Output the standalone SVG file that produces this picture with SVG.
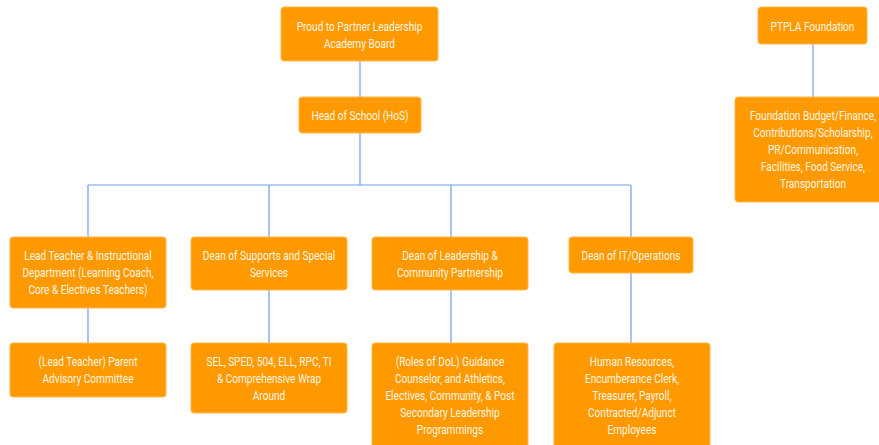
<svg xmlns="http://www.w3.org/2000/svg" width="879" height="445" viewBox="0 0 879 445">
<style>
.box{fill:#FF9900;stroke:#FFB84D;stroke-width:1}
.t{font-family:Roboto,"Liberation Sans",sans-serif;font-size:12.3px;fill:#FFF6E6;text-anchor:middle}
.c{stroke:#6D9EEB;stroke-width:1.2;fill:none}
</style>
<rect width="879" height="445" fill="#FFFFFF"/>
<g id="connectors">
<path class="c" d="M360 61V97"/>
<path class="c" d="M360 133V185M88 185H631M88 185V237M269 185V237M451 185V237M631 185V237"/>
<path class="c" d="M88 308V343M269 290V343M451 290V343M631 273V343"/>
<path class="c" d="M813 44V97"/>
</g>
<g id="board"><rect class="box" x="281" y="7" width="157" height="54" rx="3"/>
<g transform="translate(359.5 0) scale(0.82 1)"><text class="t" x="0" y="31">Proud to Partner Leadership</text><text class="t" x="0" y="48">Academy Board</text></g></g>
<g id="hos"><rect class="box" x="299" y="97" width="122" height="36" rx="3"/>
<g transform="translate(360 0) scale(0.82 1)"><text class="t" x="0" y="120">Head of School (HoS)</text></g></g>
<g id="ptpla"><rect class="box" x="758" y="7" width="109" height="37" rx="3"/>
<g transform="translate(812.5 0) scale(0.82 1)"><text class="t" x="0" y="31">PTPLA Foundation</text></g></g>
<g id="foundation"><rect class="box" x="735" y="97" width="156" height="105" rx="3"/>
<g transform="translate(813 0) scale(0.82 1)"><text class="t" x="0" y="120">Foundation Budget/Finance,</text><text class="t" x="0" y="137">Contributions/Scholarship,</text><text class="t" x="0" y="154">PR/Communication,</text><text class="t" x="0" y="171">Facilities, Food Service,</text><text class="t" x="0" y="188">Transportation</text></g></g>
<g id="leadteacher"><rect class="box" x="10" y="237" width="156" height="71" rx="3"/>
<g transform="translate(88 0) scale(0.82 1)"><text class="t" x="0" y="260">Lead Teacher &amp; Instructional</text><text class="t" x="0" y="277">Department (Learning Coach,</text><text class="t" x="0" y="294">Core &amp; Electives Teachers)</text></g></g>
<g id="supports"><rect class="box" x="191" y="237" width="156" height="53" rx="3"/>
<g transform="translate(269 0) scale(0.82 1)"><text class="t" x="0" y="260">Dean of Supports and Special</text><text class="t" x="0" y="277">Services</text></g></g>
<g id="leadership"><rect class="box" x="372" y="237" width="156" height="53" rx="3"/>
<g transform="translate(450 0) scale(0.82 1)"><text class="t" x="0" y="260">Dean of Leadership &amp;</text><text class="t" x="0" y="277">Community Partnership</text></g></g>
<g id="itops"><rect class="box" x="569" y="237" width="124" height="36" rx="3"/>
<g transform="translate(631 0) scale(0.82 1)"><text class="t" x="0" y="260">Dean of IT/Operations</text></g></g>
<g id="parent"><rect class="box" x="10" y="343" width="156" height="54" rx="3"/>
<g transform="translate(88 0) scale(0.82 1)"><text class="t" x="0" y="366">(Lead Teacher) Parent</text><text class="t" x="0" y="383">Advisory Committee</text></g></g>
<g id="sel"><rect class="box" x="191" y="343" width="156" height="70" rx="3"/>
<g transform="translate(269 0) scale(0.82 1)"><text class="t" x="0" y="366">SEL, SPED, 504, ELL, RPC, TI</text><text class="t" x="0" y="383">&amp; Comprehensive Wrap</text><text class="t" x="0" y="400">Around</text></g></g>
<g id="roles"><rect class="box" x="372" y="343" width="156" height="106" rx="3"/>
<g transform="translate(450 0) scale(0.82 1)"><text class="t" x="0" y="366">(Roles of DoL) Guidance</text><text class="t" x="0" y="383">Counselor, and Athletics,</text><text class="t" x="0" y="400">Electives, Community, &amp; Post</text><text class="t" x="0" y="417">Secondary Leadership</text><text class="t" x="0" y="434">Programmings</text></g></g>
<g id="hr"><rect class="box" x="554" y="343" width="156" height="106" rx="3"/>
<g transform="translate(632 0) scale(0.82 1)"><text class="t" x="0" y="366">Human Resources,</text><text class="t" x="0" y="383">Encumberance Clerk,</text><text class="t" x="0" y="400">Treasurer, Payroll,</text><text class="t" x="0" y="417">Contracted/Adjunct</text><text class="t" x="0" y="434">Employees</text></g></g>
</svg>
